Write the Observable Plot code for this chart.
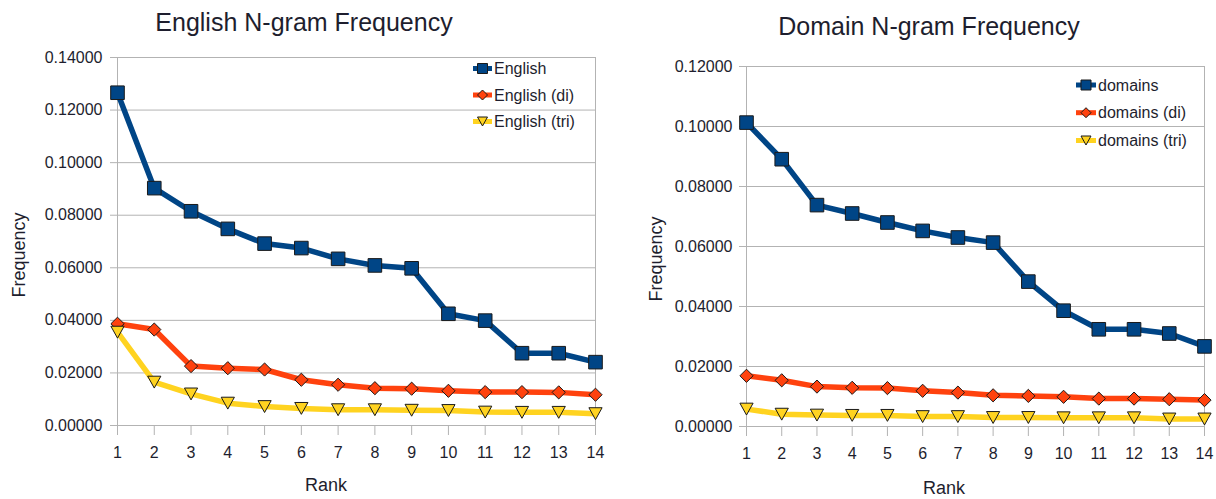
<!DOCTYPE html>
<html>
<head>
<meta charset="utf-8">
<script src="https://cdn.jsdelivr.net/npm/d3@7"></script>
<script src="https://cdn.jsdelivr.net/npm/@observablehq/plot@0.6"></script>
<style>
  body { margin: 0; background: #fff; }
  #wrap { position: relative; width: 1216px; height: 499px; overflow: hidden; background: #fff; font-family: "Liberation Sans", Arial, sans-serif; }
  #wrap > svg { position: absolute; top: 0; }
  #overlay { position: absolute; left: 0; top: 0; pointer-events: none; }
</style>
</head>
<body>
<div id="wrap"></div>
<script>
// ---- data ----
const ranks = [1, 2, 3, 4, 5, 6, 7, 8, 9, 10, 11, 12, 13, 14];

const englishUni = [0.1266, 0.0903, 0.0815, 0.0748, 0.0692, 0.0675, 0.0634, 0.0609, 0.0598, 0.0425, 0.0399, 0.0275, 0.0275, 0.0241];
const englishDi  = [0.0387, 0.0365, 0.0226, 0.0218, 0.0213, 0.0174, 0.0155, 0.0142, 0.0140, 0.0132, 0.0127, 0.0127, 0.0126, 0.0117];
const englishTri = [0.0355, 0.0165, 0.0120, 0.0085, 0.0072, 0.0065, 0.0060, 0.0060, 0.0058, 0.0057, 0.0051, 0.0050, 0.0050, 0.0045];

const domainsUni = [0.1013, 0.0891, 0.0738, 0.0710, 0.0680, 0.0652, 0.0630, 0.0613, 0.0483, 0.0386, 0.0324, 0.0324, 0.0310, 0.0267];
const domainsDi  = [0.0169, 0.0154, 0.0133, 0.0129, 0.0128, 0.0119, 0.0113, 0.0104, 0.0102, 0.0099, 0.0093, 0.0093, 0.0091, 0.0088];
const domainsTri = [0.0058, 0.0041, 0.0038, 0.0037, 0.0037, 0.0033, 0.0033, 0.0030, 0.0030, 0.0029, 0.0029, 0.0029, 0.0025, 0.0025];

const englishNames = ["English", "English (di)", "English (tri)"];
const domainsNames = ["domains", "domains (di)", "domains (tri)"];

const englishYTicks = [0, 0.02, 0.04, 0.06, 0.08, 0.10, 0.12, 0.14];
const domainsYTicks = [0, 0.02, 0.04, 0.06, 0.08, 0.10, 0.12];

const titles = ["English N-gram Frequency", "Domain N-gram Frequency"];
const xLabel = "Rank";
const yLabel = "Frequency";

// ---- style ----
const colors = ["#004586", "#ff420e", "#ffd320"];
const FONT = "'Liberation Sans', Arial, sans-serif";
const GRID = "#b3b3b3";
const TEXT = "#1e1e2e";
const OUTLINE = "#1a1a1a";

// custom symbols (bbox-centred like LibreOffice)
const symSquare = { draw(ctx, size) { const r = Math.sqrt(size / Math.PI); ctx.moveTo(-r, -r); ctx.lineTo(r, -r); ctx.lineTo(r, r); ctx.lineTo(-r, r); ctx.closePath(); } };
const symDiamond = { draw(ctx, size) { const r = Math.sqrt(size / Math.PI); ctx.moveTo(0, -r); ctx.lineTo(r, 0); ctx.lineTo(0, r); ctx.lineTo(-r, 0); ctx.closePath(); } };
const symTriDown = { draw(ctx, size) { const r = Math.sqrt(size / Math.PI); const h = r * 0.9; ctx.moveTo(-r, -h); ctx.lineTo(r, -h); ctx.lineTo(0, h); ctx.closePath(); } };
const symbols = [symSquare, symDiamond, symTriDown];
const symR = [6.8, 6.6, 6.6];

function makeChart(cfg) {
  const { series, names, yTicks, ymax, width, ml, mr, mt, mb, labelGap } = cfg;
  const data = [];
  series.forEach((vals, si) => vals.forEach((v, i) => data.push({ rank: ranks[i], value: v, name: names[si], si })));
  const marks = [
    Plot.gridY(yTicks, { stroke: GRID, strokeOpacity: 1, strokeWidth: 1 }),
    Plot.frame({ stroke: GRID, strokeWidth: 1 }),
    Plot.axisY(yTicks, { tickSize: 7, tickPadding: labelGap, tickFormat: d3.format(".5f"), stroke: GRID, fill: TEXT, label: null, fontSize: 16 }),
    Plot.axisX(ranks, { tickSize: 10, tickPadding: 11, tickFormat: d => String(d), stroke: GRID, fill: TEXT, label: null, fontSize: 16 })
  ];
  names.forEach((n, si) => {
    marks.push(Plot.line(data.filter(d => d.si === si), { x: "rank", y: "value", stroke: colors[si], strokeWidth: 5.5, strokeLinejoin: "round", strokeLinecap: "butt" }));
  });
  names.forEach((n, si) => {
    marks.push(Plot.dot(data.filter(d => d.si === si), { x: "rank", y: "value", symbol: symbols[si], r: symR[si], fill: colors[si], stroke: OUTLINE, strokeWidth: 1 }));
  });
  return Plot.plot({
    width, height: 499,
    marginLeft: ml, marginRight: mr, marginTop: mt, marginBottom: mb,
    x: { type: "linear", domain: [1, 14], axis: null },
    y: { type: "linear", domain: [0, ymax], axis: null },
    style: { fontFamily: FONT, fontSize: "16px", background: "transparent", overflow: "visible" },
    marks
  });
}

const wrap = document.getElementById("wrap");

const left = makeChart({ series: [englishUni, englishDi, englishTri], names: englishNames, yTicks: englishYTicks, ymax: 0.14,
  width: 608, ml: 117, mr: 13, mt: 57, mb: 74, labelGap: 8 });
left.style.left = "0px";
wrap.appendChild(left);

const right = makeChart({ series: [domainsUni, domainsDi, domainsTri], names: domainsNames, yTicks: domainsYTicks, ymax: 0.12,
  width: 608, ml: 138, mr: 12, mt: 66, mb: 73, labelGap: 7 });
right.style.left = "608px";
wrap.appendChild(right);

// ---- overlay: titles, axis labels, legends ----
const ov = d3.select(wrap).append("svg").attr("id", "overlay").attr("width", 1216).attr("height", 499)
  .style("font-family", FONT);

const titlePos = [[304, 31], [929, 35]];
titles.forEach((t, i) => ov.append("text").attr("x", titlePos[i][0]).attr("y", titlePos[i][1])
  .attr("text-anchor", "middle").attr("font-size", 25).attr("fill", TEXT).text(t));

const rankPos = [[326, 491], [944, 494]];
rankPos.forEach(p => ov.append("text").attr("x", p[0]).attr("y", p[1]).attr("text-anchor", "middle")
  .attr("font-size", 18).attr("fill", TEXT).text(xLabel));

const freqPos = [[25, 255], [662, 259]];
freqPos.forEach(p => ov.append("text").attr("transform", `translate(${p[0]},${p[1]}) rotate(-90)`)
  .attr("text-anchor", "middle").attr("font-size", 18).attr("fill", TEXT).text(yLabel));

function legend(names, x0, x1, ys) {
  const g = ov.append("g");
  names.forEach((n, i) => {
    const y = ys[i];
    g.append("line").attr("x1", x0).attr("x2", x1).attr("y1", y).attr("y2", y)
      .attr("stroke", colors[i]).attr("stroke-width", 5);
    const cx = (x0 + x1) / 2, r = 5;
    let d;
    if (i === 0) d = `M${cx - r},${y - r}H${cx + r}V${y + r}H${cx - r}Z`;
    else if (i === 1) d = `M${cx},${y - r}L${cx + r},${y}L${cx},${y + r}L${cx - r},${y}Z`;
    else d = `M${cx - r},${y - r * 0.9}H${cx + r}L${cx},${y + r * 0.9}Z`;
    g.append("path").attr("d", d).attr("fill", colors[i]).attr("stroke", OUTLINE).attr("stroke-width", 1);
    g.append("text").attr("x", x1 + 2).attr("y", y + 5.6).attr("font-size", 16).attr("fill", TEXT).text(n);
  });
}
legend(englishNames, 473, 492, [68.5, 95, 121.5]);
legend(domainsNames, 1076, 1096, [85, 112.7, 140.5]);
</script>
</body>
</html>
